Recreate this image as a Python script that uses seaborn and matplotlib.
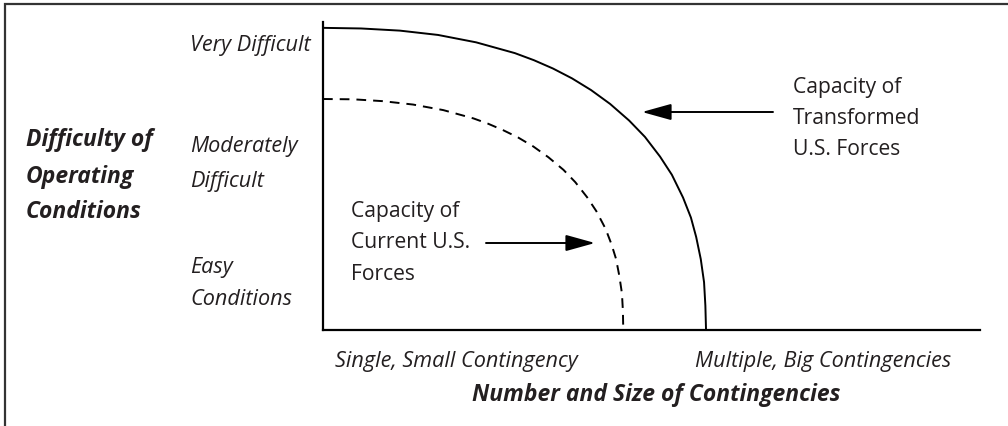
import matplotlib
matplotlib.use("Agg")
import matplotlib.pyplot as plt
import seaborn as sns
import pandas as pd
from matplotlib.patches import Rectangle

# ---- data (axis units 0..100) ----
transformed_x = [0, 5.8, 11.7, 17.5, 23.3, 29.2, 32.1, 35.0, 37.9, 40.8, 43.7, 46.6, 49.0,
                 51.3, 53.1, 54.8, 56.0, 56.8, 57.5, 58.0, 58.2, 58.3]
transformed_y = [98.1, 97.9, 97.2, 95.8, 93.4, 89.9, 87.6, 84.9, 81.7, 77.9, 73.4, 68.0, 62.7,
                 56.3, 50.4, 43.0, 36.5, 30.2, 23.0, 15.5, 7.9, 0]
current_x = [0, 4.6, 9.1, 13.7, 18.3, 22.9, 25.1, 27.4, 29.7, 32.0, 34.3, 36.6, 38.4,
             40.2, 41.6, 43.0, 43.9, 44.6, 45.1, 45.5, 45.65, 45.7]
current_y = [75.0, 74.9, 74.3, 73.2, 71.4, 68.7, 67.0, 64.9, 62.5, 59.6, 56.1, 52.0, 48.0,
             43.1, 38.6, 32.9, 27.9, 23.1, 17.6, 11.9, 6.1, 0]

y_level_labels = [["Very Difficult"], ["Moderately", "Difficult"], ["Easy", "Conditions"]]
x_level_labels = ["Single, Small Contingency", "Multiple, Big Contingencies"]
y_title_lines = ["Difficulty of", "Operating", "Conditions"]
x_title = "Number and Size of Contingencies"
current_label = ["Capacity of", "Current U.S.", "Forces"]
transformed_label = ["Capacity of", "Transformed", "U.S. Forces"]

W, H = 1008, 427
sns.set_theme(style="white")
plt.rcParams["font.family"] = ["Open Sans", "DejaVu Sans"]
TXT = "#231f20"

fig = plt.figure(figsize=(W / 100, H / 100), dpi=100)
ax = fig.add_axes([323 / W, 1 - 331 / H, 657 / W, 308 / H])

df = pd.concat([
    pd.DataFrame({"x": transformed_x, "y": transformed_y, "series": "Transformed"}),
    pd.DataFrame({"x": current_x, "y": current_y, "series": "Current"}),
])
sns.lineplot(data=df[df.series == "Transformed"], x="x", y="y", sort=False, estimator=None,
             color="black", linewidth=1.4, ax=ax)
sns.lineplot(data=df[df.series == "Current"], x="x", y="y", sort=False, estimator=None,
             color="black", linewidth=1.4, linestyle=(0, (5.0, 3.6)), ax=ax)

ax.set_xlim(0, 100)
ax.set_ylim(0, 100)
ax.set_xticks([])
ax.set_yticks([])
ax.set_xlabel("")
ax.set_ylabel("")
for s in ["top", "right"]:
    ax.spines[s].set_visible(False)
for s in ["left", "bottom"]:
    ax.spines[s].set_color("black")
    ax.spines[s].set_linewidth(1.6)


def px(x, y):
    return x / W, 1 - y / H


FS_UP = 15.2
FS_IT = 15.6
FS_BI = 16.5

# y level labels
ypos = [[45], [147, 182], [268, 300]]
for lines, ys in zip(y_level_labels, ypos):
    for t, yy in zip(lines, ys):
        fig.text(*px(190, yy), t, fontsize=FS_IT, style="italic", color=TXT, va="center", ha="left")

# y title
for t, yy in zip(y_title_lines, [140, 177, 212]):
    fig.text(*px(26, yy), t, fontsize=FS_BI, style="italic", fontweight="bold", color=TXT,
             va="center", ha="left")

# x level labels
fig.text(*px(335, 362), x_level_labels[0], fontsize=FS_IT, style="italic", color=TXT,
         va="center", ha="left")
fig.text(*px(695, 362), x_level_labels[1], fontsize=FS_IT, style="italic", color=TXT,
         va="center", ha="left")

# x title
fig.text(*px(656, 395), x_title, fontsize=FS_BI, style="italic", fontweight="bold", color=TXT,
         va="center", ha="center")

# annotations
for t, yy in zip(current_label, [212, 243, 275]):
    fig.text(*px(351, yy), t, fontsize=FS_UP, color=TXT, va="center", ha="left")
for t, yy in zip(transformed_label, [87, 118, 150]):
    fig.text(*px(793, yy), t, fontsize=FS_UP, color=TXT, va="center", ha="left")

arrow_kw = dict(arrowstyle="-|>,head_length=0.9,head_width=0.25", color="black", lw=1.4,
                shrinkA=0, shrinkB=0, mutation_scale=20)
ax.annotate("", xy=px(595, 244), xytext=px(486, 244), xycoords="figure fraction",
            textcoords="figure fraction", arrowprops=arrow_kw)
ax.annotate("", xy=px(642, 113), xytext=px(773, 113), xycoords="figure fraction",
            textcoords="figure fraction", arrowprops=arrow_kw)

# frame (top and left edges visible)
fig.add_artist(Rectangle(px(5, 500), 2.0, (500 - 5) / H, transform=fig.transFigure,
                         fill=False, edgecolor="#333333", linewidth=1.6))

fig.savefig("out.png", dpi=100, facecolor="white")
